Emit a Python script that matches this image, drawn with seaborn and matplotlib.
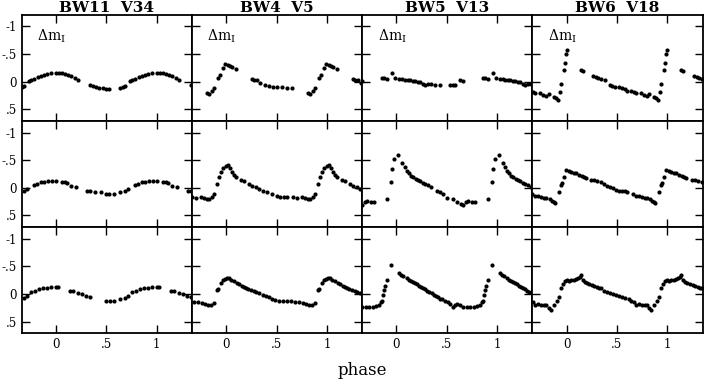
import numpy as np
import pandas as pd
import seaborn as sns
import matplotlib
matplotlib.use("Agg")
import matplotlib.pyplot as plt

# column titles (field + variable)
titles = ["BW11  V34", "BW4  V5", "BW5  V13", "BW6  V18"]
y_ticks = [-1, -0.5, 0, 0.5]
y_ticklabels = ["-1", "-.5", "0", ".5"]
x_ticks = [0, 0.5, 1]
x_ticklabels = ["0", ".5", "1"]

# one pulsation cycle per panel (phase, delta mag)
# row 1
v34_a_ph = [0.00, 0.03, 0.06, 0.09, 0.12, 0.15, 0.19, 0.22, 0.34, 0.37, 0.40, 0.43, 0.47,
            0.50, 0.53, 0.63, 0.66, 0.68, 0.73, 0.75, 0.78, 0.82, 0.85, 0.88, 0.91, 0.95]
v34_a_mag = [-0.15, -0.15, -0.15, -0.14, -0.13, -0.11, -0.07, -0.04, 0.05, 0.08, 0.10, 0.11, 0.12,
             0.13, 0.13, 0.12, 0.10, 0.08, -0.01, -0.03, -0.05, -0.08, -0.10, -0.13, -0.14, -0.15]
v5_a_ph = [0.81, 0.83, 0.86, 0.88, 0.92, 0.94, 0.97, 0.99, 0.02, 0.04, 0.06, 0.10, 0.26, 0.28,
           0.31, 0.34, 0.38, 0.42, 0.46, 0.50, 0.55, 0.60, 0.65]
v5_a_mag = [0.21, 0.22, 0.17, 0.12, -0.06, -0.12, -0.25, -0.33, -0.31, -0.28, -0.27, -0.23, -0.05, -0.04,
            -0.03, 0.02, 0.05, 0.07, 0.09, 0.10, 0.10, 0.11, 0.11]
v13_a_ph = [0.63, 0.66, 0.86, 0.88, 0.91, 0.96, 0.99, 0.03, 0.06, 0.08, 0.11, 0.13, 0.16, 0.18,
            0.21, 0.23, 0.26, 0.28, 0.31, 0.34, 0.38, 0.43, 0.53, 0.56, 0.58]
v13_a_mag = [-0.04, -0.01, -0.07, -0.06, -0.05, -0.16, -0.06, -0.05, -0.05, -0.04, -0.03, -0.03, -0.02, -0.01,
             0.00, 0.01, 0.04, 0.05, 0.04, 0.04, 0.06, 0.06, 0.05, 0.06, 0.06]
v18_a_ph = [0.69, 0.74, 0.77, 0.80, 0.82, 0.87, 0.89, 0.91, 0.93, 0.94, 0.97, 0.98, 0.99, 0.00,
            0.14, 0.16, 0.26, 0.29, 0.31, 0.34, 0.38, 0.43, 0.45, 0.48, 0.52, 0.55, 0.58, 0.60, 0.64, 0.67]
v18_a_mag = [0.21, 0.20, 0.24, 0.25, 0.22, 0.28, 0.30, 0.33, 0.19, 0.04, -0.22, -0.34, -0.51, -0.57,
             -0.22, -0.19, -0.11, -0.09, -0.07, -0.05, -0.03, 0.06, 0.08, 0.09, 0.10, 0.12, 0.14, 0.16, 0.17, 0.19]
# row 2
v34_b_ph = [0.00, 0.06, 0.09, 0.11, 0.15, 0.20, 0.31, 0.34, 0.39, 0.45, 0.50, 0.53, 0.58, 0.63,
            0.68, 0.71, 0.78, 0.81, 0.85, 0.88, 0.92, 0.96]
v34_b_mag = [-0.13, -0.11, -0.10, -0.09, -0.04, -0.02, 0.05, 0.06, 0.08, 0.08, 0.11, 0.12, 0.11, 0.08,
             0.05, 0.03, -0.05, -0.07, -0.10, -0.11, -0.12, -0.13]
v5_b_ph = [0.00, 0.02, 0.04, 0.06, 0.08, 0.10, 0.15, 0.18, 0.23, 0.26, 0.30, 0.33, 0.36, 0.40, 0.45,
           0.50, 0.53, 0.57, 0.60, 0.66, 0.70, 0.75, 0.78, 0.81, 0.83, 0.86, 0.88, 0.91, 0.93, 0.95, 0.97]
v5_b_mag = [-0.40, -0.42, -0.36, -0.28, -0.23, -0.19, -0.15, -0.13, -0.07, -0.04, -0.01, 0.02, 0.05, 0.07, 0.11,
            0.14, 0.17, 0.17, 0.17, 0.17, 0.18, 0.17, 0.18, 0.20, 0.21, 0.17, 0.12, -0.07, -0.20, -0.29, -0.35]
v13_b_ph = [0.91, 0.95, 0.96, 0.98, 0.02, 0.06, 0.08, 0.10, 0.12, 0.14, 0.16, 0.19, 0.21, 0.23, 0.26,
            0.28, 0.31, 0.34, 0.40, 0.43, 0.46, 0.50, 0.56, 0.60, 0.64, 0.66, 0.69, 0.71, 0.75, 0.78]
v13_b_mag = [0.20, -0.10, -0.34, -0.53, -0.60, -0.45, -0.37, -0.31, -0.26, -0.22, -0.19, -0.16, -0.14, -0.12, -0.09,
             -0.07, -0.05, -0.01, 0.06, 0.08, 0.11, 0.18, 0.20, 0.26, 0.30, 0.32, 0.25, 0.24, 0.25, 0.26]
v18_b_ph = [0.92, 0.94, 0.95, 0.97, 0.99, 0.02, 0.04, 0.07, 0.09, 0.12, 0.15, 0.17, 0.19, 0.24, 0.27,
            0.30, 0.34, 0.37, 0.40, 0.43, 0.46, 0.49, 0.52, 0.55, 0.58, 0.60, 0.66, 0.69, 0.72, 0.75,
            0.78, 0.80, 0.83, 0.85, 0.87, 0.88]
v18_b_mag = [0.07, -0.05, -0.09, -0.20, -0.33, -0.31, -0.29, -0.27, -0.26, -0.24, -0.21, -0.19, -0.17, -0.15, -0.14,
             -0.12, -0.10, -0.07, -0.04, -0.02, 0.01, 0.04, 0.05, 0.05, 0.06, 0.07, 0.11, 0.14, 0.15, 0.16,
             0.18, 0.19, 0.21, 0.23, 0.26, 0.27]
# row 3
v34_c_ph = [0.00, 0.02, 0.14, 0.17, 0.22, 0.26, 0.30, 0.34, 0.50, 0.54, 0.58, 0.63, 0.68, 0.71,
            0.75, 0.79, 0.83, 0.87, 0.91, 0.95]
v34_c_mag = [-0.13, -0.12, -0.06, -0.05, -0.02, 0.01, 0.04, 0.06, 0.12, 0.12, 0.12, 0.10, 0.08, 0.03,
             -0.03, -0.06, -0.08, -0.10, -0.11, -0.12]
v5_c_ph = [0.91, 0.92, 0.95, 0.97, 0.99, 0.01, 0.03, 0.05, 0.08, 0.11, 0.13, 0.16, 0.18, 0.20, 0.22,
           0.25, 0.28, 0.30, 0.33, 0.36, 0.39, 0.42, 0.45, 0.48, 0.52, 0.56, 0.60, 0.64, 0.68, 0.72,
           0.76, 0.79, 0.82, 0.85, 0.88]
v5_c_mag = [-0.07, -0.08, -0.20, -0.25, -0.27, -0.28, -0.28, -0.26, -0.23, -0.19, -0.17, -0.15, -0.12, -0.11, -0.09,
            -0.07, -0.05, -0.03, -0.01, 0.02, 0.04, 0.06, 0.09, 0.11, 0.12, 0.12, 0.12, 0.13, 0.14, 0.15,
            0.17, 0.18, 0.20, 0.20, 0.16]
v13_c_ph = [0.85, 0.86, 0.87, 0.88, 0.89, 0.91, 0.95, 0.03, 0.05, 0.07, 0.10, 0.12, 0.14, 0.16, 0.18,
            0.20, 0.22, 0.24, 0.26, 0.28, 0.30, 0.32, 0.35, 0.37, 0.39, 0.41, 0.43, 0.45, 0.48, 0.51,
            0.53, 0.56, 0.58, 0.60, 0.63, 0.66, 0.70, 0.73, 0.77, 0.80, 0.83]
v13_c_mag = [0.15, 0.12, 0.02, -0.07, -0.15, -0.25, -0.53, -0.38, -0.35, -0.32, -0.28, -0.26, -0.24, -0.22, -0.19,
             -0.17, -0.15, -0.12, -0.10, -0.08, -0.06, -0.04, -0.01, 0.02, 0.04, 0.06, 0.09, 0.10, 0.12, 0.14,
             0.18, 0.23, 0.20, 0.19, 0.20, 0.23, 0.24, 0.23, 0.24, 0.22, 0.20]
v18_c_ph = [0.90, 0.92, 0.94, 0.96, 0.98, 0.00, 0.02, 0.04, 0.07, 0.09, 0.11, 0.13, 0.14, 0.16, 0.18,
            0.20, 0.22, 0.25, 0.27, 0.30, 0.32, 0.34, 0.37, 0.40, 0.43, 0.46, 0.49, 0.52, 0.55, 0.58,
            0.62, 0.64, 0.67, 0.69, 0.72, 0.75, 0.78, 0.80, 0.82, 0.84, 0.87]
v18_c_mag = [0.12, 0.05, -0.10, -0.18, -0.23, -0.25, -0.24, -0.26, -0.26, -0.27, -0.28, -0.31, -0.35, -0.25, -0.22,
             -0.20, -0.18, -0.16, -0.14, -0.12, -0.11, -0.10, -0.06, -0.04, -0.02, 0.00, 0.02, 0.04, 0.06, 0.07,
             0.09, 0.12, 0.15, 0.20, 0.19, 0.20, 0.21, 0.21, 0.25, 0.29, 0.20]

panels = [
    [(v34_a_ph, v34_a_mag), (v5_a_ph, v5_a_mag), (v13_a_ph, v13_a_mag), (v18_a_ph, v18_a_mag)],
    [(v34_b_ph, v34_b_mag), (v5_b_ph, v5_b_mag), (v13_b_ph, v13_b_mag), (v18_b_ph, v18_b_mag)],
    [(v34_c_ph, v34_c_mag), (v5_c_ph, v5_c_mag), (v13_c_ph, v13_c_mag), (v18_c_ph, v18_c_mag)],
]

xlim = (-0.34, 1.35)
ylim = (0.71, -1.21)

sns.set_style("ticks")
plt.rcParams['font.family'] = ['DejaVu Serif']
plt.rcParams['mathtext.fontset'] = 'dejavuserif'
plt.rcParams['text.color'] = 'black'

fig, axes = plt.subplots(3, 4, figsize=(7.04, 3.82), dpi=100, sharex=True, sharey=True)
fig.subplots_adjust(left=0.031, right=0.998, top=0.961, bottom=0.128, wspace=0, hspace=0)

for i, row in enumerate(panels):
    for j, (ph, mag) in enumerate(row):
        ax = axes[i, j]
        # light curve shown over more than one cycle
        df = pd.DataFrame({'phase': np.array(ph), 'mag': np.array(mag)})
        df = pd.concat([df.assign(phase=df['phase'] + k) for k in (-1, 0, 1)])
        df = df[(df['phase'] > xlim[0]) & (df['phase'] < xlim[1])]
        sns.scatterplot(data=df, x='phase', y='mag', ax=ax, color='black', s=9,
                        linewidth=0, legend=False)
        ax.set_xlim(xlim)
        ax.set_ylim(ylim)
        ax.set_xticks(x_ticks)
        ax.set_yticks(y_ticks)
        ax.tick_params(axis='both', direction='in', top=True, right=True,
                       length=6, width=1, labelsize=8.5, color='black', labelcolor='black')
        ax.set_xlabel('')
        ax.set_ylabel('')
        for sp in ax.spines.values():
            sp.set_linewidth(1.3)
            sp.set_color('black')
        if j == 0:
            ax.set_yticklabels(y_ticklabels)
        if i == 2:
            ax.set_xticklabels(x_ticklabels)
        if i == 0:
            ax.set_title(titles[j], fontsize=11, fontweight='bold', pad=2)
            ax.text(0.09, 0.80, r'$\Delta$m$_\mathrm{I}$', transform=ax.transAxes,
                    fontsize=10, va='center', ha='left')

fig.text(0.514, 0.03, 'phase', ha='center', va='center', fontsize=12)

fig.savefig('out.png', dpi=100)
